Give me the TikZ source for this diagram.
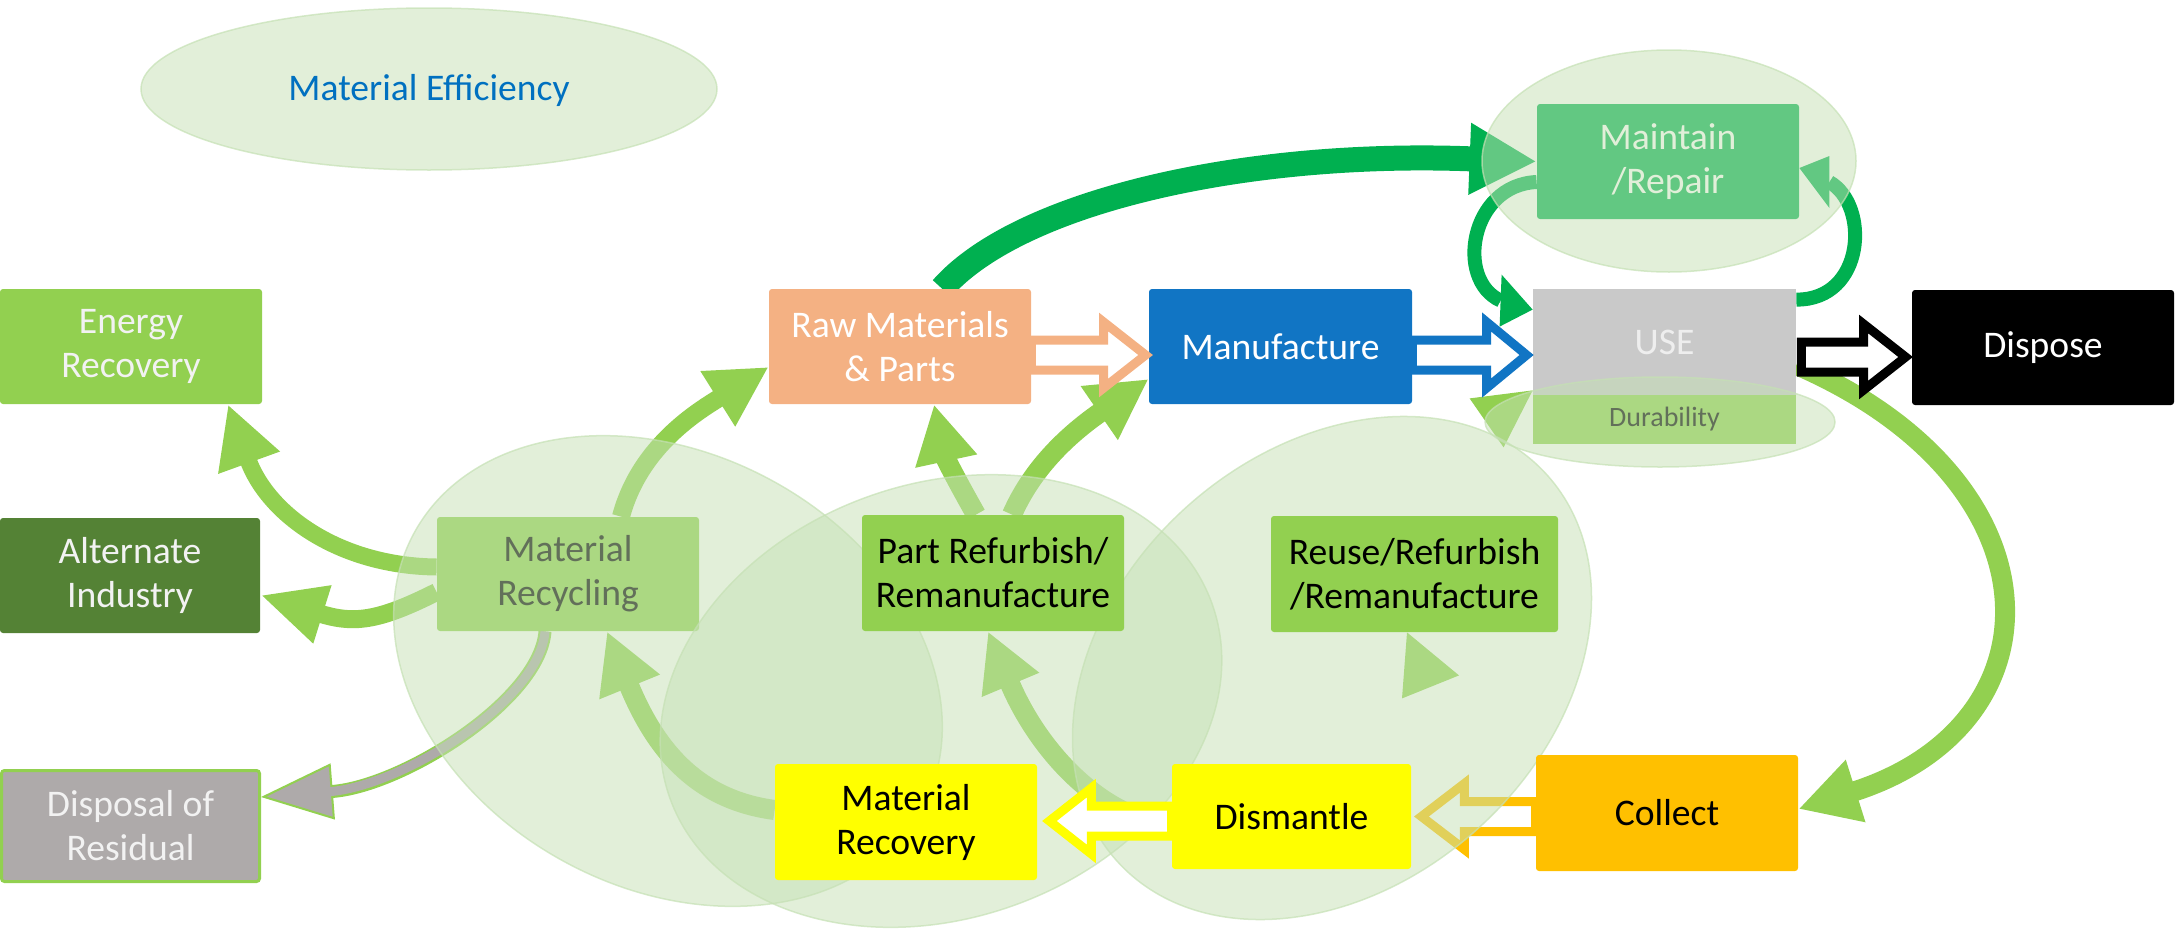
\documentclass[tikz,border=0pt]{standalone}
\usepackage{fontspec}
\setmainfont{Carlito}
\usetikzlibrary{arrows.meta,calc}
\definecolor{gA}{HTML}{92D050}
\definecolor{gD}{HTML}{00B050}
\definecolor{salmon}{HTML}{F4B183}
\definecolor{mblue}{HTML}{1175C4}
\definecolor{usegray}{HTML}{C9C9C9}
\definecolor{usetext}{HTML}{EEEEEE}
\definecolor{altgreen}{HTML}{548235}
\definecolor{resgray}{HTML}{AEAAAA}
\definecolor{ylw}{HTML}{FFFF00}
\definecolor{gold}{HTML}{FFC000}
\definecolor{ellf}{HTML}{C5E0B4}
\definecolor{effblue}{HTML}{0070C0}
\definecolor{offwhite}{HTML}{F2F2F2}
\pgfdeclarelayer{arrowlayer}
\pgfdeclarelayer{lowbox}
\pgfdeclarelayer{bubblelayer}
\pgfsetlayers{arrowlayer,lowbox,bubblelayer,main}
\newcommand{\hollowarrow}[6]{%
  \draw[#1] ($(#2)+(0,-#4)$) -- ($(#3)+(#6,-#4)$) -- ($(#3)+(#6,-#5)$) -- (#3)
    -- ($(#3)+(#6,#5)$) -- ($(#3)+(#6,#4)$) -- ($(#2)+(0,#4)$) -- cycle;}
\begin{document}
\begin{tikzpicture}[x=0.5pt,y=-0.5pt,
  box/.style={rectangle, rounded corners=1.5pt, inner sep=1pt, align=center,
    font=\fontsize{18.8pt}{22pt}\selectfont},
  bubble/.style={fill=ellf, fill opacity=0.5, draw=ellf, draw opacity=0.7, line width=0.75pt},
  flow/.style={gA, line width=9pt, -{Triangle[width=30.5pt,length=30pt]}},
  hollow/.style={line width=4.5pt, fill=white, line join=miter, miter limit=10}]
\useasboundingbox (0,0) rectangle (2177,937);

% ---------- boxes above the bubbles ----------
\node[box, fill=gA, text=offwhite, minimum width=131pt, minimum height=57.5pt] (er) at (131,346.5) {Energy\\Recovery};
\node[box, fill=salmon, text=white, minimum width=131pt, minimum height=57.5pt] (rm) at (900,346.5) {Raw Materials\\\& Parts};
\node[box, fill=mblue, text=white, minimum width=131.5pt, minimum height=57.5pt] (mf) at (1280.5,346.5) {Manufacture};
\node[box, fill=black, text=white, minimum width=131pt, minimum height=57.5pt] (dp) at (2043,347.5) {Dispose};
\node[box, fill=altgreen, text=offwhite, minimum width=130pt, minimum height=57.5pt] (ai) at (130,575.5) {Alternate\\Industry};
\node[box, fill=gA, text=black, minimum width=131pt, minimum height=58pt] (prf) at (993,573) {Part Refurbish/\\Remanufacture};
\node[box, fill=gA, text=black, minimum width=143.5pt, minimum height=58pt] (reuse) at (1414.5,574) {Reuse/Refurbish\\/Remanufacture};
\node[box, fill=resgray, draw=gA, line width=1.5pt, text=offwhite, minimum width=129pt, minimum height=55.5pt] (dr) at (130.5,826) {Disposal of\\Residual};
\node[box, fill=ylw, text=black, minimum width=131pt, minimum height=58pt] (mrec) at (906,822) {Material\\Recovery};
\node[box, fill=ylw, text=black, minimum width=119.5pt, minimum height=52.5pt] (dm) at (1291.5,816.5) {Dismantle};
\node[box, fill=gold, text=black, minimum width=131pt, minimum height=58pt] (co) at (1667,813) {Collect};
\node[font=\fontsize{18.8pt}{22pt}\selectfont, text=effblue] (meff) at (429,90) {Material Efficiency};

% ---------- boxes under the bubbles ----------
\begin{pgfonlayer}{lowbox}
\node[box, fill=gA, text=black, minimum width=131pt, minimum height=57pt] (mrc) at (568,574) {Material\\Recycling};
\node[box, fill=gD, text=white, minimum width=131pt, minimum height=57.5pt] (mr) at (1668,161.5) {Maintain\\/Repair};
\node[box, sharp corners, fill=usegray, text=usetext, minimum width=131.5pt, minimum height=53pt] (use) at (1664.5,342) {USE};
\node[box, sharp corners, fill=gA, text=black, font=\fontsize{14pt}{17pt}\selectfont, minimum width=131.5pt, minimum height=24.5pt] (dur) at (1664.5,419.5) {Durability};
\end{pgfonlayer}

% ---------- curved arrows (under everything) ----------
\begin{pgfonlayer}{arrowlayer}
% Raw Materials -> Maintain/Repair
\draw[gD, line width=12.5pt, -{Triangle[width=33.5pt,length=33.5pt]}]
  ([xshift=21pt]rm.north) .. controls (1020,200) and (1250,150) .. (mr.west);
% Maintain -> USE (left loop)
\coordinate (lt) at ([yshift=-10.5pt]use.north west);
\coordinate (lb) at ([xshift=-16pt,yshift=4.5pt]lt);
\draw[gD, line width=7pt] ([yshift=-10.25pt]mr.west) .. controls (1470,185) and (1455,280) .. (lb);
\fill[gD] (lt) -- +(-15.5pt,17.5pt) -- +(-16.5pt,-8.5pt) -- cycle;
% USE -> Maintain (right loop)
\coordinate (rt) at ([yshift=-3.25pt]mr.east);
\coordinate (rb) at ([xshift=15pt,yshift=-7pt]rt);
\draw[gD, line width=7pt] ([yshift=-5.5pt]use.north east) .. controls (1865,300) and (1870,205) .. (rb);
\fill[gD] (rt) -- +(15pt,6pt) -- +(15pt,-20pt) -- cycle;
% Material Recycling -> Raw Materials
\draw[flow] ([xshift=26.5pt]mrc.north) .. controls (640,445) and (700,410) .. ([yshift=-10.25pt]rm.west);
% Material Recycling -> Energy Recovery
\draw[flow, line width=8.5pt, -{Triangle[width=30.5pt,length=31pt]}]
  ([yshift=3.5pt]mrc.west) .. controls (340,566) and (268,515) .. ([xshift=48.5pt]er.south);
% Material Recycling -> Alternate Industry
\draw[flow, -{Triangle[width=28pt,length=32.5pt]}]
  ([yshift=-9pt]mrc.west) .. controls (377,622) and (353,624) .. ([yshift=-9.75pt]ai.east);
% Material Recycling -> Disposal of Residual
\draw[gA, line width=6.5pt, -{Triangle[width=28pt,length=36pt,fill=resgray,line width=1pt]}]
  ([xshift=-11.5pt]mrc.south) .. controls (540,700) and (403,786) .. ([yshift=14.5pt]dr.east);
\draw[resgray, line width=4.5pt, shorten >=34pt]
  ([xshift=-11.5pt]mrc.south) .. controls (540,700) and (403,786) .. ([yshift=14.5pt]dr.east);
% Material Recovery -> Material Recycling
\draw[flow, line width=10pt] ([yshift=6pt]mrec.west) .. controls (700,800) and (657,754) .. ([xshift=19.5pt]mrc.south);
% Part Refurbish -> Raw Materials
\draw[flow, line width=10pt, -{Triangle[width=29.5pt,length=29pt]}]
  ([xshift=-8.5pt]prf.north) .. controls (962,490) and (946,460) .. ([xshift=17pt]rm.south);
% Part Refurbish -> Manufacture
\draw[flow, line width=10pt] ([xshift=9.5pt]prf.north) .. controls (1025,485) and (1050,447) .. ([yshift=-16.25pt]mf.west);
% Dismantle -> Part Refurbish
\draw[flow, line width=10pt, -{Triangle[width=29pt,length=29pt]}]
  ([yshift=-4.25pt]dm.west) .. controls (1105,820) and (1040,755) .. ([xshift=-2.5pt]prf.south);
% USE -> Collect
\draw[flow, line width=10pt] ([yshift=-11.5pt]use.east) .. controls (2064,481) and (2065,725) .. ([yshift=2pt]co.east);
% arrowheads without visible shafts
\fill[gA] ([xshift=-3.75pt]reuse.south) -- +(-2.5pt,-33pt) -- +(26pt,-21.5pt) -- cycle;
\fill[gA] ([yshift=2.5pt]use.south west) -- +(-31.5pt,-4pt) -- +(-14.5pt,-28.5pt) -- cycle;
% Collect -> Dismantle (hollow)
\coordinate (h4s) at ([yshift=-1.75pt]co.west);
\coordinate (h4e) at ([xshift=5pt]dm.east);
\hollowarrow{gold,hollow}{h4s}{h4e}{15}{33}{43}
\end{pgfonlayer}

% ---------- bubbles ----------
\begin{pgfonlayer}{bubblelayer}
\path[bubble] (429,89) ellipse [x radius=288, y radius=81];
\path[bubble, rotate around={-28.5:(668,671)}] (668,671) ellipse [x radius=289, y radius=217];
\path[bubble, rotate around={19.8:(941,701)}] (941,701) ellipse [x radius=288, y radius=217];
\path[bubble, rotate around={41.8:(1332,668)}] (1332,668) ellipse [x radius=289, y radius=217];
\path[bubble] (1669,161) ellipse [x radius=187, y radius=111];
\path[bubble] (1660,422) ellipse [x radius=175, y radius=45];
\end{pgfonlayer}

% ---------- hollow block arrows (on top) ----------
\coordinate (h1s) at ([yshift=-4.25pt]rm.east);
\coordinate (h1e) at ([xshift=-1.5pt,yshift=-4.25pt]mf.west);
\hollowarrow{salmon,hollow}{h1s}{h1e}{15}{33}{-42}
\coordinate (h2s) at ([yshift=-4.25pt]mf.east);
\coordinate (h2e) at ([xshift=-3pt,yshift=-6.5pt]use.west);
\hollowarrow{mblue,hollow}{h2s}{h2e}{15}{33}{-40}
\coordinate (h3s) at ([xshift=2.5pt,yshift=-7.5pt]use.east);
\coordinate (h3e) at ([xshift=-3pt,yshift=-4.75pt]dp.west);
\hollowarrow{black,hollow}{h3s}{h3e}{15}{33}{-42}
\coordinate (h5s) at ([yshift=-2.25pt]dm.west);
\coordinate (h5e) at ([xshift=6pt,yshift=0.5pt]mrec.east);
\hollowarrow{ylw,hollow}{h5s}{h5e}{15}{33}{42}
\end{tikzpicture}
\end{document}
